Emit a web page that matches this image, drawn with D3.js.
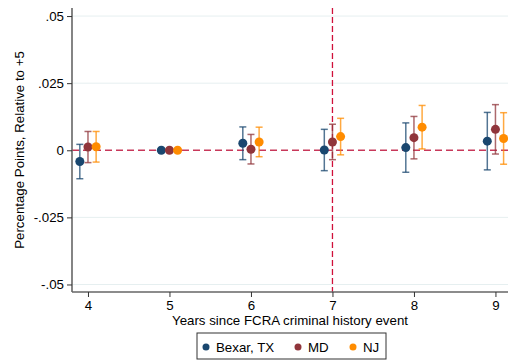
<!DOCTYPE html>
<html>
<head>
<meta charset="utf-8">
<script src="https://d3js.org/d3.v7.min.js"></script>
<style>
  body { margin: 0; background: #fff; }
  svg { font-family: "Liberation Sans", Arial, sans-serif; }
</style>
</head>
<body>
<svg id="chart" width="508" height="362"></svg>
<script>
// data
var years = [4, 5, 6, 7, 8, 9];
var seriesNames = ["Bexar, TX", "MD", "NJ"];
var seriesColors = ["#1a476f", "#90353b", "#ff8c00"];
var bexarEst = [-0.0042, 0, 0.0026, 0.0001, 0.0010, 0.0034];
var bexarHalf = [0.0064, 0, 0.0061, 0.0077, 0.0092, 0.0107];
var mdEst = [0.0012, 0, 0.0004, 0.0031, 0.0047, 0.0078];
var mdHalf = [0.0058, 0, 0.0055, 0.0066, 0.0079, 0.0092];
var njEst = [0.0013, 0, 0.0031, 0.0051, 0.0086, 0.0044];
var njHalf = [0.0057, 0, 0.0055, 0.0068, 0.0081, 0.0096];
var yTicks = [-0.05, -0.025, 0, 0.025, 0.05];
var yTickLabels = ["-.05", "-.025", "0", ".025", ".05"];
var eventYear = 7;

var svg = d3.select("#chart");
var pLeft = 72, pRight = 508, pTop = 8, pBottom = 292;
var fs = 13.3;

var x = d3.scaleLinear().domain([3.804, 9.154]).range([pLeft, pRight]);
var y = d3.scaleLinear().domain([-0.0528, 0.0530]).range([pBottom, pTop]);

// gridlines
svg.append("g").selectAll("line")
  .data(yTicks.filter(function(d) { return d != 0; }))
  .enter().append("line")
    .attr("x1", pLeft).attr("x2", pRight)
    .attr("y1", function(d) { return y(d); })
    .attr("y2", function(d) { return y(d); })
    .attr("stroke", "#e6eff0").attr("stroke-width", 1);

// reference lines
svg.append("line")
  .attr("x1", pLeft).attr("x2", pRight)
  .attr("y1", y(0)).attr("y2", y(0))
  .attr("stroke", "#c8385a").attr("stroke-width", 1.3)
  .attr("stroke-dasharray", "7,4");

svg.append("line")
  .attr("x1", x(eventYear)).attr("x2", x(eventYear))
  .attr("y1", pTop).attr("y2", pBottom)
  .attr("stroke", "#d0103a").attr("stroke-width", 1.3)
  .attr("stroke-dasharray", "6,3");

// axes
var yAxis = svg.append("g")
  .attr("transform", "translate(" + pLeft + ",0)")
  .call(d3.axisLeft(y).tickValues(yTicks).tickSize(5).tickPadding(3)
    .tickFormat(function(d, i) { return yTickLabels[i]; }));

var xAxis = svg.append("g")
  .attr("transform", "translate(0," + pBottom + ")")
  .call(d3.axisBottom(x).tickValues(years).tickSize(5).tickPadding(4)
    .tickFormat(d3.format("d")));

[xAxis, yAxis].forEach(function(ax) {
  ax.select(".domain").attr("stroke", "#666").attr("stroke-width", 1.6);
  ax.selectAll(".tick line").attr("stroke", "#333").attr("stroke-width", 1);
  ax.selectAll(".tick text").attr("fill", "#000").attr("font-size", fs)
    .attr("font-family", "Liberation Sans, Arial, sans-serif");
});
yAxis.select(".domain").attr("d", "M0," + pTop + "V" + pBottom);
xAxis.select(".domain").attr("d", "M" + pLeft + ",0H" + pRight);

// titles
svg.append("text")
  .attr("transform", "translate(24," + ((pTop + pBottom) / 2) + ") rotate(-90)")
  .attr("text-anchor", "middle")
  .attr("font-size", fs)
  .text("Percentage Points, Relative to +5");

svg.append("text")
  .attr("x", (pLeft + pRight) / 2).attr("y", 325)
  .attr("text-anchor", "middle")
  .attr("font-size", fs)
  .text("Years since FCRA criminal history event");

// points and error bars
var series = [
  {name: seriesNames[0], color: seriesColors[0], est: bexarEst, half: bexarHalf, off: -0.1},
  {name: seriesNames[1], color: seriesColors[1], est: mdEst, half: mdHalf, off: 0},
  {name: seriesNames[2], color: seriesColors[2], est: njEst, half: njHalf, off: 0.1}
];

series.forEach(function(s) {
  var g = svg.append("g");
  var pts = years.map(function(yr, i) {
    return {x: yr + s.off, est: s.est[i], lo: s.est[i] - s.half[i], hi: s.est[i] + s.half[i]};
  });
  var bars = g.selectAll(".eb").data(pts.filter(function(d) { return d.hi > d.lo; }))
    .enter().append("g")
      .attr("stroke", s.color).attr("stroke-opacity", 0.75).attr("stroke-width", 1.5);
  bars.append("line")
    .attr("x1", function(d) { return x(d.x); }).attr("x2", function(d) { return x(d.x); })
    .attr("y1", function(d) { return y(d.lo); }).attr("y2", function(d) { return y(d.hi); });
  bars.append("line")
    .attr("x1", function(d) { return x(d.x) - 3.5; }).attr("x2", function(d) { return x(d.x) + 3.5; })
    .attr("y1", function(d) { return y(d.lo); }).attr("y2", function(d) { return y(d.lo); });
  bars.append("line")
    .attr("x1", function(d) { return x(d.x) - 3.5; }).attr("x2", function(d) { return x(d.x) + 3.5; })
    .attr("y1", function(d) { return y(d.hi); }).attr("y2", function(d) { return y(d.hi); });
  g.selectAll("circle").data(pts)
    .enter().append("circle")
      .attr("cx", function(d) { return x(d.x); })
      .attr("cy", function(d) { return y(d.est); })
      .attr("r", 4.5)
      .attr("fill", s.color);
});

// legend
var legend = svg.append("g");
legend.append("rect")
  .attr("x", 197).attr("y", 333).attr("width", 189).attr("height", 26)
  .attr("fill", "#fff").attr("stroke", "#333").attr("stroke-width", 1);
var legendX = [206, 298, 353];
series.forEach(function(s, i) {
  legend.append("circle").attr("cx", legendX[i]).attr("cy", 347).attr("r", 3.5).attr("fill", s.color);
  legend.append("text").attr("x", legendX[i] + 10).attr("y", 352)
    .attr("font-size", fs).text(s.name);
});
</script>
</body>
</html>
